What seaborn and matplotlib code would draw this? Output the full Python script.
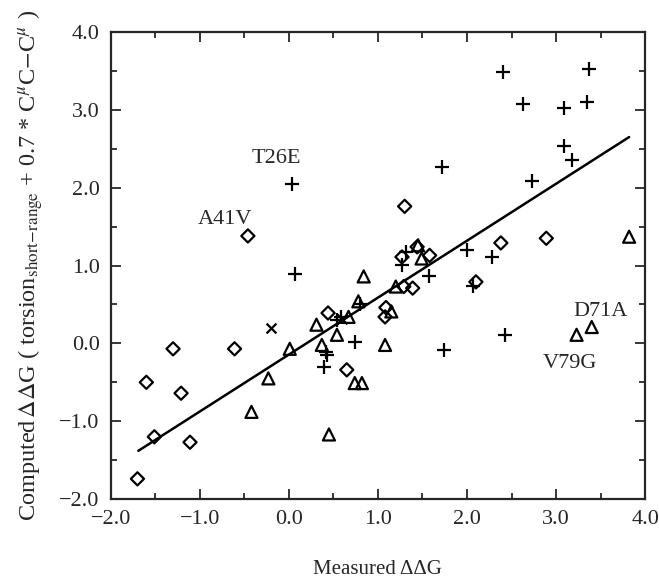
import matplotlib
matplotlib.use("Agg")
import matplotlib.pyplot as plt
import seaborn as sns
import pandas as pd
from matplotlib.ticker import MultipleLocator, FuncFormatter

# measured vs computed ddG
diamond_x = [-1.70, -1.60, -1.51, -1.30, -1.21, -1.11, -0.61, -0.46, 0.44, 0.65,
             1.08, 1.09, 1.27, 1.29, 1.30, 1.39, 1.44, 1.58, 2.10, 2.38, 2.89]
diamond_y = [-1.74, -0.50, -1.20, -0.07, -0.64, -1.27, -0.07, 1.38, 0.39, -0.34,
             0.34, 0.46, 1.11, 0.73, 1.76, 0.71, 1.24, 1.13, 0.79, 1.29, 1.35]

triangle_x = [-0.42, -0.23, 0.01, 0.31, 0.37, 0.45, 0.54, 0.67, 0.74, 0.78,
              0.82, 0.84, 1.08, 1.15, 1.20, 1.45, 1.49, 3.23, 3.40, 3.82]
triangle_y = [-0.88, -0.45, -0.07, 0.24, -0.02, -1.17, 0.11, 0.34, -0.51, 0.54,
              -0.51, 0.86, -0.02, 0.41, 0.73, 1.26, 1.09, 0.11, 0.21, 1.37]

plus_x = [0.04, 0.07, 0.39, 0.42, 0.43, 0.54, 0.59, 0.74, 0.80, 1.27, 1.32, 1.57, 1.72,
          1.74, 2.00, 2.07, 2.28, 2.40, 2.43, 2.63, 2.73, 3.09, 3.09, 3.18, 3.35, 3.37]
plus_y = [2.05, 0.89, -0.30, -0.11, -0.15, 0.30, 0.34, 0.02, 0.50, 1.01, 1.18, 0.86, 2.27,
          -0.09, 1.20, 0.74, 1.11, 3.49, 0.11, 3.08, 2.08, 3.02, 2.54, 2.35, 3.10, 3.53]

cross_x = [-0.20, 0.60]
cross_y = [0.20, 0.31]

# regression line end points
fit_x = [-1.69, 3.82]
fit_y = [-1.38, 2.65]

# labelled mutants
mut_names = ["T26E", "A41V", "D71A", "V79G"]
mut_x = [-0.14, -0.72, 3.50, 3.16]
mut_y = [2.38, 1.585, 0.405, -0.26]

sns.set_style("ticks")
plt.rcParams["font.family"] = ["Liberation Serif", "DejaVu Serif"]
plt.rcParams["mathtext.fontset"] = "stix"

fig = plt.figure(figsize=(6.59, 5.81), dpi=100)
ax = fig.add_axes([0.168, 0.141, 0.811, 0.804])

df_d = pd.DataFrame({"x": diamond_x, "y": diamond_y})
df_t = pd.DataFrame({"x": triangle_x, "y": triangle_y})
df_p = pd.DataFrame({"x": plus_x, "y": plus_y})
df_c = pd.DataFrame({"x": cross_x, "y": cross_y})

sns.lineplot(x=fit_x, y=fit_y, ax=ax, color="black", linewidth=1.8)
sns.scatterplot(data=df_d, x="x", y="y", ax=ax, marker="D", s=45,
                facecolor="none", edgecolor="black", linewidth=1.6)
sns.scatterplot(data=df_t, x="x", y="y", ax=ax, marker="^", s=75,
                facecolor="none", edgecolor="black", linewidth=1.6)
sns.scatterplot(data=df_p, x="x", y="y", ax=ax, marker="+", s=110,
                color="black", linewidth=1.6)
sns.scatterplot(data=df_c, x="x", y="y", ax=ax, marker="x", s=50,
                color="black", linewidth=1.6)

for name, xx, yy in zip(mut_names, mut_x, mut_y):
    ax.text(xx, yy, name, fontsize=16, ha="center", va="center")


def fmt(v, pos):
    return f"{v:.1f}".replace("-", "\u2212")


ax.set_xlim(-2.0, 4.0)
ax.set_ylim(-2.0, 4.0)
ax.xaxis.set_major_locator(MultipleLocator(1.0))
ax.yaxis.set_major_locator(MultipleLocator(1.0))
ax.xaxis.set_minor_locator(MultipleLocator(0.5))
ax.yaxis.set_minor_locator(MultipleLocator(0.5))
ax.xaxis.set_major_formatter(FuncFormatter(fmt))
ax.yaxis.set_major_formatter(FuncFormatter(fmt))
ax.tick_params(which="both", direction="in", top=True, right=True, width=1.3,
               labelsize=16)
ax.tick_params(which="major", length=7, pad=8)
ax.tick_params(which="minor", length=4)
for sp in ax.spines.values():
    sp.set_linewidth(1.6)
    sp.set_visible(True)

ax.set_xlabel("Measured \u0394\u0394G", fontsize=15, labelpad=22)
ax.set_ylabel(r"Computed$\,\Delta\Delta$G ( torsion$_{\mathrm{short\!-\!range}}$"
              r" + 0.7 * C$^{\mu}$C$-$C$^{\mu}$ )", fontsize=17.5, labelpad=10)

fig.savefig("out.png", dpi=100)
